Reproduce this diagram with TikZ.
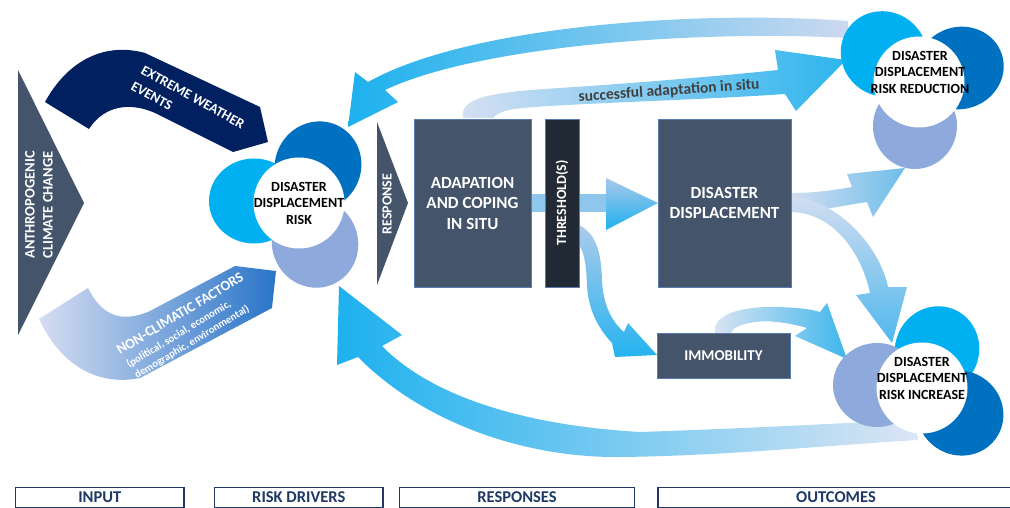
\documentclass[tikz,border=0pt]{standalone}
\usepackage{fontspec}
\setmainfont{Carlito}
\definecolor{slate}{HTML}{44546A}
\definecolor{navy}{HTML}{002060}
\definecolor{thr}{HTML}{222A35}
\definecolor{lblue}{HTML}{00B0F0}
\definecolor{dblue}{HTML}{0070C0}
\definecolor{lav}{HTML}{8EA9DB}
\definecolor{brite}{HTML}{1DB1EE}
\definecolor{pale}{HTML}{D6E0F2}
\definecolor{lblnavy}{HTML}{1F3864}
\definecolor{boxedge}{HTML}{5A7BB0}
\definecolor{ncl}{HTML}{D5DDF1}
\definecolor{ncm}{HTML}{93ABDC}
\definecolor{ncr}{HTML}{2A75C8}
\definecolor{shaftc}{HTML}{8FC6EE}
\definecolor{txtgray}{HTML}{404040}
\definecolor{headtop}{HTML}{A9C8EA}
\definecolor{sasr}{HTML}{2DB5EE}
\definecolor{topr}{HTML}{CBD9EF}
\definecolor{botr}{HTML}{DCE5F4}
\definecolor{ddpale}{HTML}{D1DDF1}
\definecolor{ddrr}{HTML}{6FBEEA}
\definecolor{ddri}{HTML}{4FB8EC}
\definecolor{timt}{HTML}{B0CCEB}
\definecolor{timb}{HTML}{25B3EF}
\definecolor{imrl}{HTML}{DCE4F3}
\definecolor{imrr}{HTML}{3FB6EC}
\begin{document}
\begin{tikzpicture}[x=1pt,y=-1pt,
  box/.style={fill=slate, draw=boxedge, line width=0.8pt, text=white, align=center, inner sep=0pt,
    font=\bfseries\fontsize{17}{20.5}\selectfont},
  wtxt/.style={text=white, inner sep=0pt, font=\bfseries\fontsize{14}{17}\selectfont},
  ctxt/.style={text=black, align=center, inner sep=0pt, font=\bfseries\fontsize{14}{16.5}\selectfont},
  hole/.style={circle, fill=white, minimum size=91pt, inner sep=0pt},
  lbl/.style={draw=lblnavy, line width=1.1pt, text=lblnavy, inner sep=0pt, minimum height=20pt,
    font=\bfseries\fontsize{16.5}{18}\selectfont}
]
\useasboundingbox (0,0) rectangle (1010,508);

% ---------- INPUT ----------
\fill[slate] (18,70) -- (84,203) -- (18,335) -- cycle;
\node[wtxt, rotate=90, align=center, font=\bfseries\fontsize{14.5}{18}\selectfont] (acc) at (39,205) {ANTHROPOGENIC\\CLIMATE CHANGE};

% extreme weather events arrow
\fill[navy] (45,102) .. controls (68,60) and (105,42) .. (145,53) -- (260,107) -- (268,142) -- (233,152) -- (155,113) .. controls (128,101) and (103,107) .. (89,129) -- cycle;
\node[wtxt, rotate=-29, anchor=base west] (ew1) at (140,73) {EXTREME WEATHER};
\node[wtxt, rotate=-29, anchor=base west] (ew2) at (130,89) {EVENTS};

% non-climatic factors arrow
\shade[left color=ncl, middle color=ncm, right color=ncr] (39,319) .. controls (62,368) and (100,386) .. (140,378) -- (272,308) -- (276,271) -- (235,266) -- (150,311) .. controls (118,325) and (100,312) .. (88,288) -- cycle;
\node[wtxt, rotate=31, anchor=base west, font=\bfseries\fontsize{14.3}{17}\selectfont] (nc1) at (120,355) {NON-CLIMATIC FACTORS};
\node[wtxt, rotate=31, anchor=base west, font=\bfseries\fontsize{10.7}{12}\selectfont] (nc2) at (129,368) {(political, social, economic,};
\node[wtxt, rotate=31, anchor=base west, font=\bfseries\fontsize{10.7}{12}\selectfont] (nc3) at (137,379) {demographic, environmental)};

% ---------- flow arrows ----------
% threshold -> displacement
\fill[shaftc] (520,194) rectangle (606,212);
\shade[top color=headtop, bottom color=brite] (606,178) -- (658,203) -- (606,230) -- cycle;

% successful adaptation in situ
\shade[left color=pale, right color=sasr] (463,118) .. controls (459,98) and (490,92) .. (560,88) .. controls (650,82) and (730,75) .. (778,70) -- (775,50) -- (846,60) -- (796,111) -- (785,94) .. controls (700,100) and (580,103) .. (522,108) .. controls (503,110) and (496,114) .. (493,118) -- cycle;
\node[text=txtgray, rotate=4, inner sep=0pt, font=\bfseries\fontsize{15.5}{17}\selectfont] (sas) at (669,91) {successful adaptation in situ};

% top feedback arrow (risk reduction -> risk)
\shade[left color=brite, right color=topr] (848,21) .. controls (700,10) and (470,25) .. (368,82) -- (355,72) -- (348,127) -- (398,102) -- (385,90) .. controls (480,45) and (700,30) .. (848,38) -- cycle;

% bottom feedback arrow (risk increase -> risk)
\shade[left color=brite, right color=botr] (339,286) -- (402,335) -- (382,346) .. controls (430,395) and (520,425) .. (640,432) .. controls (760,428) and (860,422) .. (915,420) -- (918,440) .. controls (820,446) and (720,456) .. (620,457) .. controls (520,458) and (420,420) .. (358,357) -- (337,365) -- cycle;

% displacement -> risk reduction
\shade[left color=ddpale, right color=ddrr] (791,193) .. controls (815,193) and (835,190) .. (852,187) -- (847,174) -- (905,168) -- (873,217) -- (867,202) .. controls (840,206) and (815,212) .. (791,212) -- cycle;
% displacement -> risk increase
\shade[top color=ddpale, bottom color=ddri] (791,197) .. controls (830,197) and (878,240) .. (888,287) -- (907,287) -- (892,343) -- (856,295) -- (870,293) .. controls (862,255) and (835,213) .. (791,212) -- cycle;

% threshold -> immobility
\shade[top color=timt, bottom color=timb] (572,222) .. controls (596,230) and (601,250) .. (602,280) .. controls (603,305) and (612,322) .. (624,332) -- (628,323) -- (657,355) -- (615,357) -- (612,343) .. controls (597,327) and (588,308) .. (587,285) .. controls (586,262) and (584,245) .. (572,238) -- cycle;

% immobility -> risk increase
\shade[left color=imrl, right color=imrr] (715,333) .. controls (712,315) and (740,307) .. (770,307) .. controls (795,307) and (810,309) .. (820,312) -- (827,303) -- (847,359) -- (795,336) -- (807,328) .. controls (790,323) and (770,320) .. (755,322) .. controls (740,324) and (733,328) .. (731,333) -- cycle;

% ---------- flowers ----------
% disaster displacement risk
\fill[lblue] (254,201) ellipse [x radius=45, y radius=42.5];
\fill[dblue, rotate around={63:(318,166)}] (318,166) ellipse [x radius=45, y radius=43];
\fill[lav, rotate around={-68:(315,243)}] (315,243) ellipse [x radius=45, y radius=43];
\node[hole] (ddr) at (299,203) {};
\node[ctxt] at (ddr.center) {DISASTER\\DISPLACEMENT\\RISK};

% risk reduction
\fill[lblue, rotate around={141:(884,54)}] (884,54) ellipse [x radius=44, y radius=42];
\fill[dblue, rotate around={19:(960,68)}] (960,68) ellipse [x radius=44, y radius=41];
\fill[lav, rotate around={-95:(915,126)}] (915,126) ellipse [x radius=43, y radius=42];
\node[hole] (rr) at (919,82) {};
\node[ctxt] at (920,72) {DISASTER\\DISPLACEMENT\\RISK REDUCTION};

% risk increase
\fill[lblue, rotate around={68:(937,350)}] (937,350) ellipse [x radius=44, y radius=42];
\fill[dblue, rotate around={-33:(960,413)}] (960,413) ellipse [x radius=44, y radius=42];
\fill[lav] (877,385) ellipse [x radius=44, y radius=42];
\node[hole] (ri) at (922,388) {};
\node[ctxt] at (922,378) {DISASTER\\DISPLACEMENT\\RISK INCREASE};

% ---------- response ----------
\fill[slate] (377,122) -- (408,203) -- (377,285) -- cycle;
\node[wtxt, rotate=90, font=\bfseries\fontsize{14}{15}\selectfont] (resp) at (387,204) {RESPONSE};

\node[box, minimum width=117pt, minimum height=168pt] (adapt) at (472.5,203) {ADAPATION\\AND COPING\\IN SITU};
\node[box, fill=thr, minimum width=34pt, minimum height=168pt] (thresh) at (562,203) {};
\node[wtxt, rotate=90, font=\bfseries\fontsize{14}{15}\selectfont] at (thresh.center) {THRESHOLD(S)};
\node[box, minimum width=133pt, minimum height=168pt, font=\bfseries\fontsize{17}{20}\selectfont] (dd) at (724.5,203) {DISASTER\\DISPLACEMENT};
\node[box, minimum width=133pt, minimum height=45pt, font=\bfseries\fontsize{15}{15}\selectfont] (immob) at (723.5,355.5) {IMMOBILITY};

% ---------- bottom labels ----------
\node[lbl, minimum width=168.5pt] (linput) at (99.75,497.5) {INPUT};
\node[lbl, minimum width=168.5pt] (ldrivers) at (298.75,497.5) {RISK DRIVERS};
\node[lbl, minimum width=235pt] (lresp) at (517,497.5) {RESPONSES};
\node[lbl, minimum width=356pt] (lout) at (836,497.5) {OUTCOMES};
\end{tikzpicture}
\end{document}
